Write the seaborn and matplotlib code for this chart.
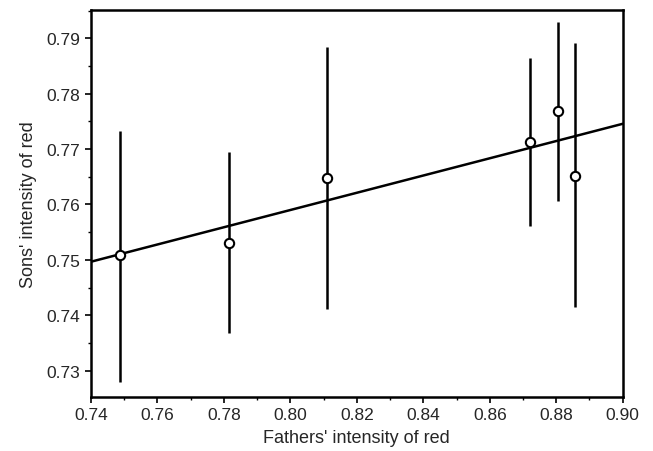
import numpy as np
import pandas as pd
import matplotlib
matplotlib.use('Agg')
import matplotlib.pyplot as plt
import seaborn as sns
from matplotlib.ticker import MultipleLocator

fathers = [0.7488, 0.7814, 0.8109, 0.8722, 0.8805, 0.8855]
sons = [0.7508, 0.7531, 0.7648, 0.7712, 0.7768, 0.7652]
err_low = [0.7279, 0.7368, 0.7412, 0.7562, 0.7607, 0.7415]
err_high = [0.7733, 0.7695, 0.7884, 0.7864, 0.7929, 0.7891]

df = pd.DataFrame({'father': fathers, 'son': sons, 'lo': err_low, 'hi': err_high})

sns.set_style('ticks')
plt.rcParams['font.family'] = ['Liberation Sans', 'DejaVu Sans']

fig = plt.figure(figsize=(6.53, 4.52), dpi=100)
ax = fig.add_axes([0.1394, 0.1201, 0.8142, 0.8556])
ax.set_xlim(0.74, 0.90)
ax.set_ylim(0.7253, 0.7951)

# regression line across the full x range
sns.regplot(data=df, x='father', y='son', ci=None, truncate=False, scatter=False,
            line_kws={'color': 'black', 'lw': 1.8}, ax=ax)

ax.vlines(df['father'], df['lo'], df['hi'], color='black', lw=1.8, zorder=3)
sns.scatterplot(data=df, x='father', y='son', s=45, facecolor='white',
                edgecolor='black', linewidth=1.5, zorder=4, ax=ax)

ax.set_xlim(0.74, 0.90)
ax.set_ylim(0.7253, 0.7951)
ax.xaxis.set_major_locator(MultipleLocator(0.02))
ax.xaxis.set_minor_locator(MultipleLocator(0.01))
ax.yaxis.set_major_locator(MultipleLocator(0.01))
ax.yaxis.set_minor_locator(MultipleLocator(0.005))
ax.xaxis.set_major_formatter(matplotlib.ticker.FormatStrFormatter('%.2f'))
ax.yaxis.set_major_formatter(matplotlib.ticker.FormatStrFormatter('%.2f'))
ax.tick_params(which='major', length=4, width=1.2, labelsize=12.5, color='black')
ax.tick_params(which='minor', length=2.5, width=1.0, color='black')
for s in ax.spines.values():
    s.set_linewidth(1.8)
    s.set_color('black')

ax.set_xlabel("Fathers' intensity of red", fontsize=13, labelpad=5)
ax.set_ylabel("Sons' intensity of red", fontsize=13, labelpad=7)

fig.savefig('out.png', dpi=100)
